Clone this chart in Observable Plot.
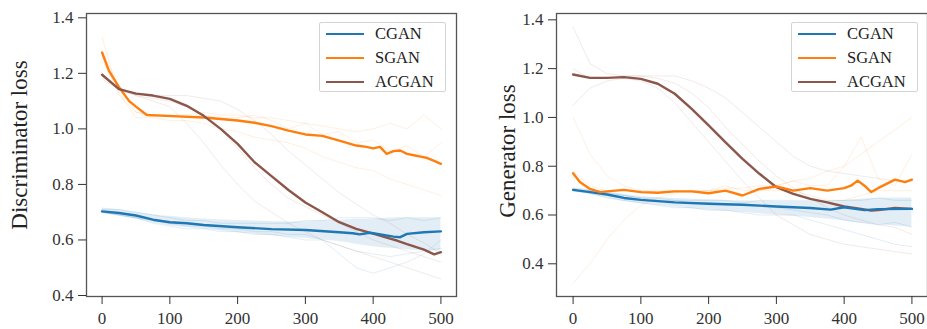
<!DOCTYPE html>
<html>
<head>
<meta charset="utf-8">
<script src="https://cdn.jsdelivr.net/npm/d3@7"></script>
<script src="https://cdn.jsdelivr.net/npm/@observablehq/plot@0.6"></script>
<style>
  html, body { margin: 0; padding: 0; background: #fff; }
  #wrap { position: relative; width: 927px; height: 329px; overflow: hidden; }
  .panel { position: absolute; top: 0; }
  .ylab { position: absolute; font-family: "Liberation Serif", serif; font-size: 23px; color: #222;
          white-space: nowrap; transform: translate(-50%, -50%) rotate(-90deg); line-height: 1.15; }
  .legend { position: absolute; top: 22px; width: 125px; height: 68px; border: 1.5px solid #d4d4d4; border-radius: 2px;
            background: rgba(255,255,255,0.85); font-family: "Liberation Serif", serif; font-size: 16.5px; color: #222; }
  .legend .row { position: absolute; left: 6px; height: 20px; display: flex; align-items: center; }
  .legend .sw { width: 38px; height: 2.6px; margin-right: 11px; }
</style>
</head>
<body>
<div id="wrap"></div>
<script>
// ---------- tick labels ----------
const xTicks = [0, 100, 200, 300, 400, 500];
const yTicks = [0.4, 0.6, 0.8, 1.0, 1.2, 1.4];
const seriesNames = ["CGAN", "SGAN", "ACGAN"];
const seriesColors = ["#1f77b4", "#ff7f0e", "#8c564b"];

// ---------- common step for faint runs / bands ----------
const runX = [0,25,50,75,100,125,150,175,200,225,250,275,300,325,350,375,400,425,450,475,500];

// ---------- Discriminator loss: mean curves ----------
const dCganX = [0,25,50,75,100,125,150,200,250,300,350,370,380,395,400,430,440,450,475,500];
const dCganY = [0.703,0.697,0.688,0.673,0.664,0.66,0.654,0.646,0.639,0.636,0.628,0.624,0.62,0.626,0.624,0.612,0.61,0.622,0.628,0.631];
const dSganX = [0,10,25,40,50,66,95,150,200,225,250,275,300,325,350,375,390,400,410,420,430,440,450,460,470,480,490,500];
const dSganY = [1.275,1.21,1.15,1.1,1.08,1.05,1.047,1.041,1.03,1.022,1.01,0.994,0.98,0.975,0.958,0.94,0.935,0.93,0.935,0.91,0.92,0.922,0.91,0.905,0.9,0.895,0.885,0.874];
const dAcganX = [0,25,50,75,100,125,150,175,200,225,250,275,300,325,350,375,400,425,435,450,475,490,500];
const dAcganY = [1.195,1.143,1.127,1.12,1.108,1.083,1.047,1.0,0.946,0.88,0.83,0.78,0.735,0.70,0.664,0.64,0.623,0.605,0.598,0.585,0.565,0.548,0.556];

// ---------- Discriminator loss: dense CGAN run cloud (envelope) ----------
const dCganHigh = [0.715,0.71,0.70,0.69,0.685,0.68,0.675,0.672,0.67,0.668,0.665,0.665,0.665,0.67,0.67,0.675,0.675,0.68,0.68,0.68,0.68];
const dCganLow  = [0.695,0.685,0.675,0.66,0.65,0.645,0.638,0.632,0.626,0.62,0.615,0.61,0.605,0.60,0.595,0.585,0.575,0.57,0.565,0.56,0.56];

// ---------- Discriminator loss: individual runs (faint) ----------
const dCganRun1 = [0.71,0.71,0.70,0.69,0.68,0.67,0.67,0.66,0.66,0.66,0.66,0.66,0.67,0.67,0.68,0.68,0.68,0.67,0.68,0.67,0.68];
const dCganRun2 = [0.70,0.69,0.68,0.66,0.65,0.64,0.64,0.63,0.63,0.62,0.62,0.61,0.60,0.60,0.58,0.56,0.55,0.54,0.55,0.56,0.57];
const dCganRun3 = [0.70,0.69,0.68,0.67,0.66,0.65,0.65,0.64,0.64,0.63,0.63,0.62,0.62,0.60,0.55,0.50,0.48,0.50,0.52,0.55,0.60];
const dSganRun1 = [1.33,1.12,1.06,1.05,1.05,1.05,1.06,1.05,1.05,1.04,1.04,1.03,1.02,1.01,1.00,0.99,1.00,1.02,1.00,1.05,1.00];
const dSganRun2 = [1.25,1.13,1.04,1.04,1.03,1.03,1.02,1.00,0.99,0.97,0.96,0.95,0.93,0.90,0.88,0.86,0.85,0.82,0.80,0.78,0.76];
const dSganRun3 = [1.28,1.15,1.06,1.05,1.05,1.04,1.05,1.04,1.04,1.05,1.03,1.00,1.02,0.98,0.99,0.95,0.96,0.92,0.94,0.90,0.95];
const dAcganRun1 = [1.20,1.14,1.12,1.10,1.08,1.02,0.95,0.87,0.80,0.74,0.70,0.66,0.63,0.60,0.58,0.56,0.54,0.52,0.50,0.48,0.46];
const dAcganRun2 = [1.18,1.14,1.13,1.12,1.12,1.12,1.11,1.10,1.07,1.03,0.98,0.92,0.87,0.82,0.77,0.73,0.69,0.66,0.62,0.59,0.55];
const dAcganRun3 = [1.19,1.15,1.12,1.11,1.10,1.08,1.05,1.00,0.93,0.86,0.80,0.75,0.72,0.69,0.66,0.63,0.60,0.58,0.56,0.54,0.52];

// ---------- Generator loss: mean curves ----------
const gCganX = [0,25,50,75,100,150,200,250,300,350,380,400,430,450,500];
const gCganY = [0.703,0.694,0.684,0.67,0.662,0.652,0.646,0.642,0.635,0.629,0.622,0.632,0.62,0.624,0.625];
const gSganX = [0,10,25,40,50,75,100,125,150,175,200,225,250,275,300,325,350,375,400,410,420,430,440,450,475,490,500];
const gSganY = [0.771,0.735,0.707,0.694,0.697,0.703,0.694,0.691,0.697,0.697,0.689,0.70,0.68,0.707,0.717,0.70,0.71,0.70,0.71,0.72,0.741,0.72,0.694,0.71,0.745,0.735,0.745];
const gAcganX = [0,25,50,75,100,125,150,175,200,225,250,275,300,325,350,375,400,425,440,450,475,500];
const gAcganY = [1.176,1.162,1.162,1.165,1.158,1.138,1.097,1.035,0.967,0.898,0.83,0.769,0.714,0.687,0.666,0.652,0.635,0.625,0.618,0.62,0.629,0.625];

// ---------- Generator loss: dense CGAN run cloud (envelope) ----------
const gCganHigh = [0.71,0.705,0.695,0.685,0.675,0.67,0.668,0.665,0.662,0.66,0.658,0.656,0.655,0.655,0.655,0.655,0.66,0.665,0.67,0.67,0.67];
const gCganLow  = [0.695,0.685,0.67,0.655,0.645,0.64,0.632,0.626,0.62,0.615,0.61,0.605,0.60,0.595,0.59,0.585,0.575,0.565,0.56,0.555,0.55];

// ---------- Generator loss: individual runs (faint) ----------
const gCganRun1 = [0.71,0.70,0.69,0.68,0.67,0.66,0.66,0.65,0.65,0.64,0.64,0.64,0.63,0.62,0.61,0.60,0.58,0.57,0.56,0.57,0.55];
const gCganRun2 = [0.70,0.70,0.69,0.68,0.67,0.67,0.66,0.66,0.66,0.66,0.65,0.66,0.66,0.66,0.66,0.66,0.66,0.66,0.67,0.66,0.66];
const gCganRun3 = [0.70,0.69,0.67,0.66,0.65,0.64,0.63,0.63,0.62,0.62,0.61,0.60,0.60,0.60,0.58,0.56,0.54,0.52,0.50,0.48,0.47];
const gSganRun1 = [0.32,0.40,0.50,0.58,0.64,0.67,0.69,0.70,0.70,0.71,0.71,0.72,0.72,0.74,0.75,0.78,0.80,0.85,0.90,0.95,1.00];
const gSganRun2 = [1.00,0.85,0.76,0.72,0.70,0.70,0.70,0.70,0.70,0.72,0.70,0.70,0.72,0.74,0.72,0.72,0.80,0.92,0.75,0.72,0.85];
const gSganRun3 = [0.78,0.72,0.70,0.70,0.70,0.69,0.70,0.69,0.70,0.70,0.68,0.70,0.70,0.70,0.68,0.66,0.66,0.68,0.70,0.70,0.70];
const gAcganRun1 = [1.37,1.22,1.18,1.17,1.17,1.17,1.17,1.15,1.12,1.08,1.02,0.96,0.90,0.84,0.80,0.78,0.77,0.76,0.75,0.74,0.74];
const gAcganRun2 = [1.05,1.12,1.15,1.16,1.15,1.12,1.06,0.98,0.90,0.82,0.74,0.67,0.60,0.56,0.52,0.50,0.48,0.47,0.46,0.45,0.44];
const gAcganRun3 = [1.20,1.16,1.16,1.17,1.17,1.16,1.14,1.10,1.04,0.96,0.89,0.82,0.76,0.71,0.67,0.63,0.60,0.58,0.56,0.55,0.52];

// ---------- build tables ----------
const pts = (xs, ys, s) => xs.map((x, i) => ({x, y: ys[i], s}));
function runs(list, s) {
  return list.flatMap((ys, k) => runX.map((x, i) => ({x, y: ys[i], s, k: s + k})));
}
const band = (lo, hi) => runX.map((x, i) => ({x, y1: lo[i], y2: hi[i]}));
const FONT = "Liberation Serif";

function panel({width, marginLeft, marginRight, xDomain, yDomain, cloud, faint, means}) {
  return Plot.plot({
    width, height: 329,
    marginLeft, marginRight, marginTop: 13, marginBottom: 33,
    style: {fontFamily: FONT, fontSize: "16.5px", color: "#333", background: "transparent"},
    x: {domain: xDomain},
    y: {domain: yDomain},
    color: {domain: seriesNames, range: seriesColors},
    marks: [
      Plot.areaY(cloud, {x: "x", y1: "y1", y2: "y2", fill: seriesColors[0], fillOpacity: 0.13, curve: "basis"}),
      Plot.line(faint, {x: "x", y: "y", z: "k", stroke: "s", strokeWidth: 0.9, strokeOpacity: 0.14}),
      ...means.map(d => Plot.line(d, {x: "x", y: "y", stroke: "s", strokeWidth: 2.4})),
      Plot.frame({stroke: "#555", strokeWidth: 1.3}),
      Plot.axisX({ticks: xTicks, tickSize: 8, tickPadding: 7, label: null, tickFormat: d3.format("d"),
                  fontSize: 17, fontFamily: FONT, fontVariant: "normal"}),
      Plot.axisY({ticks: yTicks, tickSize: 8, tickPadding: 5, label: null, tickFormat: d3.format(".1f"),
                  fontSize: 17, fontFamily: FONT, fontVariant: "normal"})
    ]
  });
}

const left = panel({
  width: 463, marginLeft: 86, marginRight: 7,
  xDomain: [-23, 523], yDomain: [0.3964, 1.4155],
  cloud: band(dCganLow, dCganHigh),
  faint: [
    ...runs([dCganRun1, dCganRun2, dCganRun3], "CGAN"),
    ...runs([dSganRun1, dSganRun2, dSganRun3], "SGAN"),
    ...runs([dAcganRun1, dAcganRun2, dAcganRun3], "ACGAN")
  ],
  means: [pts(dSganX, dSganY, "SGAN"), pts(dAcganX, dAcganY, "ACGAN"), pts(dCganX, dCganY, "CGAN")]
});
const right = panel({
  width: 464, marginLeft: 93, marginRight: 0,
  xDomain: [-24.5, 523], yDomain: [0.266, 1.426],
  cloud: band(gCganLow, gCganHigh),
  faint: [
    ...runs([gCganRun1, gCganRun2, gCganRun3], "CGAN"),
    ...runs([gSganRun1, gSganRun2, gSganRun3], "SGAN"),
    ...runs([gAcganRun1, gAcganRun2, gAcganRun3], "ACGAN")
  ],
  means: [pts(gAcganX, gAcganY, "ACGAN"), pts(gCganX, gCganY, "CGAN"), pts(gSganX, gSganY, "SGAN")]
});

const wrap = document.getElementById("wrap");
function place(el, x) { el.classList.add("panel"); el.style.left = x + "px"; wrap.appendChild(el); }
place(left, 0);
place(right, 463);

function ylab(text, cx, cy) {
  const d = document.createElement("div");
  d.className = "ylab"; d.textContent = text;
  d.style.left = cx + "px"; d.style.top = cy + "px";
  wrap.appendChild(d);
}
ylab("Discriminator loss", 20, 145);
ylab("Generator loss", 508, 151);

function legend(x) {
  const box = document.createElement("div");
  box.className = "legend"; box.style.left = x + "px";
  seriesNames.forEach((n, i) => {
    const r = document.createElement("div");
    r.className = "row"; r.style.top = (1 + i * 24) + "px";
    const sw = document.createElement("div");
    sw.className = "sw"; sw.style.background = seriesColors[i];
    const t = document.createElement("span"); t.textContent = n;
    r.appendChild(sw); r.appendChild(t); box.appendChild(r);
  });
  wrap.appendChild(box);
}
legend(319);
legend(791);
</script>
</body>
</html>
